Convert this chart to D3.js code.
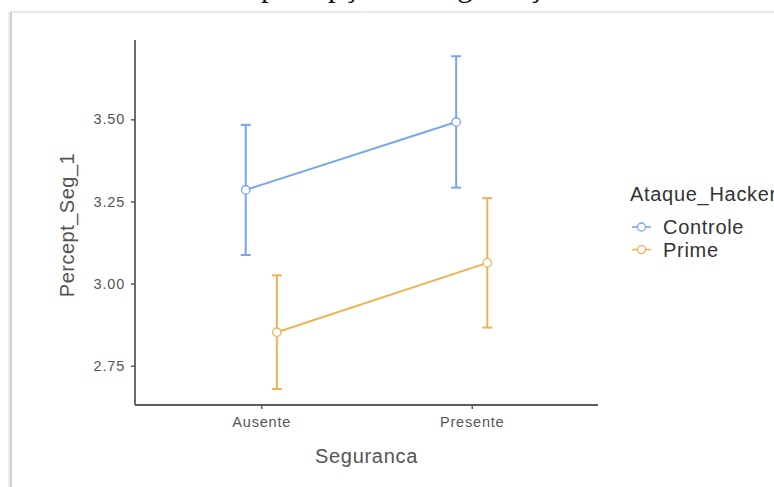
<!DOCTYPE html>
<html>
<head>
<meta charset="utf-8">
<script src="https://cdn.jsdelivr.net/npm/d3@7"></script>
<style>
  body { margin: 0; background: #fff; }
  text { font-family: Arial, "Liberation Sans", sans-serif; }
</style>
</head>
<body>
<svg id="chart" width="774" height="487"></svg>
<script>
// ── Data ────────────────────────────────────────────────
const categories   = ['Ausente', 'Presente'];
const groups       = ['Controle', 'Prime'];
const controleMean = [3.285, 3.492];
const controleErr  = [0.198, 0.200];
const primeMean    = [2.852, 3.063];
const primeErr     = [0.173, 0.197];
const yTicks       = [2.75, 3.00, 3.25, 3.50];
const colors       = ['#78a6ee', '#ebb454'];

const series = [
  { name: groups[0], mean: controleMean, err: controleErr, color: colors[0], side: -1 },
  { name: groups[1], mean: primeMean,    err: primeErr,    color: colors[1], side:  1 }
];

const svg = d3.select('#chart');
const AXIS = '#5c5c5c';
const TXT  = '#555';

// ── Page frame + clipped title ──────────────────────────
svg.append('line')
  .attr('x1', 10).attr('y1', 12).attr('x2', 774).attr('y2', 12)
  .attr('stroke', '#e2e2e2').attr('stroke-width', 1.5);
svg.append('rect')
  .attr('x', 8).attr('y', 12).attr('width', 2).attr('height', 475)
  .attr('fill', '#ececec');
svg.append('line')
  .attr('x1', 11).attr('y1', 12).attr('x2', 11).attr('y2', 487)
  .attr('stroke', '#c4c4c4').attr('stroke-width', 1.6);

// title sits above the crop, only its descenders show
svg.append('text')
  .attr('x', 261).attr('y', -4)
  .style('font-family', '"Liberation Serif", "Times New Roman", serif')
  .style('font-size', '31px')
  .attr('fill', '#111')
  .text('percepção de segurança');

// ── Scales ──────────────────────────────────────────────
const x = d3.scalePoint().domain(categories).range([135, 598]).padding(0.6);
const y = d3.scaleLinear().domain([2.6304, 3.7414]).range([405, 40]);
const dodge = x.step() * 0.074;

// ── Axes ────────────────────────────────────────────────
const yAxis = svg.append('g')
  .attr('transform', 'translate(135,0)')
  .call(d3.axisLeft(y).tickValues(yTicks).tickFormat(d3.format('.2f')).tickSize(4).tickPadding(6));
const xAxis = svg.append('g')
  .attr('transform', 'translate(0,405)')
  .call(d3.axisBottom(x).tickSize(4).tickPadding(8));

for (const ax of [yAxis, xAxis]) {
  ax.select('.domain').attr('stroke', AXIS).attr('stroke-width', 1.8);
  ax.selectAll('.tick line').attr('stroke', AXIS).attr('stroke-width', 1.5);
  ax.selectAll('.tick text')
    .attr('fill', TXT)
    .style('font-size', '14.5px')
    .style('letter-spacing', '0.8px');
}
// keep the axis lines exactly at the panel edges
yAxis.select('.domain').attr('d', `M0,${y.range()[1]}V${y.range()[0]}`);
xAxis.select('.domain').attr('d', `M135,0H598`);

svg.append('text')
  .attr('x', 366.5).attr('y', 463)
  .attr('text-anchor', 'middle')
  .attr('fill', TXT)
  .style('font-size', '20px')
  .style('letter-spacing', '0.7px')
  .text('Seguranca');

svg.append('text')
  .attr('transform', 'translate(74,225) rotate(-90)')
  .attr('text-anchor', 'middle')
  .attr('fill', TXT)
  .style('font-size', '20px')
  .style('letter-spacing', '0.5px')
  .text('Percept_Seg_1');

// ── Error bars, lines, points ───────────────────────────
const plot = svg.append('g');
const CAP = 5;

for (const s of series) {
  const pts = categories.map((c, i) => ({
    x: x(c) + s.side * dodge,
    m: s.mean[i],
    lo: s.mean[i] - s.err[i],
    hi: s.mean[i] + s.err[i]
  }));

  const g = plot.append('g');

  for (const p of pts) {
    g.append('line')
      .attr('x1', p.x).attr('x2', p.x)
      .attr('y1', y(p.lo)).attr('y2', y(p.hi))
      .attr('stroke', s.color).attr('stroke-width', 2);
    for (const v of [p.lo, p.hi]) {
      g.append('line')
        .attr('x1', p.x - CAP).attr('x2', p.x + CAP)
        .attr('y1', y(v)).attr('y2', y(v))
        .attr('stroke', s.color).attr('stroke-width', 2);
    }
  }

  g.append('path')
    .attr('d', d3.line().x(d => d.x).y(d => y(d.m))(pts))
    .attr('fill', 'none')
    .attr('stroke', s.color)
    .attr('stroke-width', 2);

  g.selectAll('circle')
    .data(pts)
    .join('circle')
    .attr('cx', d => d.x)
    .attr('cy', d => y(d.m))
    .attr('r', 4.2)
    .attr('fill', '#fff')
    .attr('stroke', s.color)
    .attr('stroke-width', 1.3);
}

// ── Legend ──────────────────────────────────────────────
const legend = svg.append('g');
legend.append('text')
  .attr('x', 630).attr('y', 201)
  .attr('fill', '#333')
  .style('font-size', '20px')
  .style('letter-spacing', '0.7px')
  .text('Ataque_Hacker');

series.forEach((s, i) => {
  const cy = 227 + i * 22.6;
  legend.append('line')
    .attr('x1', 632).attr('x2', 651)
    .attr('y1', cy).attr('y2', cy)
    .attr('stroke', s.color).attr('stroke-width', 1.6);
  legend.append('circle')
    .attr('cx', 641.5).attr('cy', cy).attr('r', 4)
    .attr('fill', '#fff')
    .attr('stroke', s.color).attr('stroke-width', 1.3);
  legend.append('text')
    .attr('x', 663).attr('y', cy + 7)
    .attr('fill', '#333')
    .style('font-size', '20px')
    .style('letter-spacing', '0.7px')
    .text(s.name);
});
</script>
</body>
</html>
